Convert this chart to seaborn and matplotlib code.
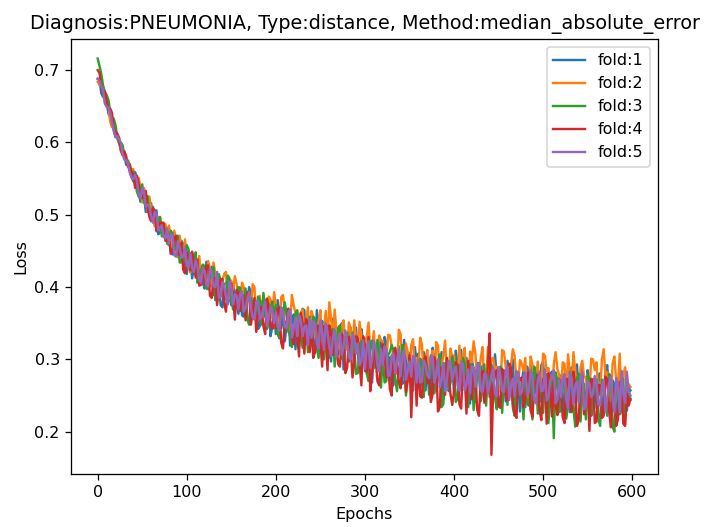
import pandas as pd
import matplotlib
matplotlib.use('Agg')
import matplotlib.pyplot as plt
import seaborn as sns

# Loss per fold, every 2 epochs
epochs = list(range(0, 600, 2))

loss_fold1 = [
    .688, .687, .668, .663, .662, .658, .640, .635, .633, .616, .608, .611, .599, .590, .591, .582, .569, .574, .564, .553,
    .546, .559, .551, .530, .518, .532, .525, .504, .504, .516, .516, .496, .492, .506, .473, .475, .487, .474, .472, .480,
    .477, .449, .445, .469, .459, .446, .441, .464, .459, .431, .418, .440, .440, .412, .426, .439, .412, .429, .429, .406,
    .398, .435, .419, .401, .428, .389, .393, .415, .405, .375, .372, .403, .406, .410, .385, .375, .404, .390, .376, .363,
    .396, .361, .359, .390, .380, .400, .393, .357, .363, .377, .342, .346, .378, .383, .360, .353, .384, .332, .346, .373,
    .335, .382, .364, .343, .371, .325, .346, .370, .319, .355, .362, .314, .348, .360, .326, .370, .368, .321, .331, .343,
    .354, .327, .309, .368, .339, .311, .353, .339, .318, .353, .325, .297, .356, .337, .306, .307, .331, .350, .286, .325,
    .328, .297, .344, .322, .297, .344, .309, .285, .342, .324, .284, .330, .319, .273, .268, .314, .310, .288, .321, .327,
    .287, .331, .322, .281, .303, .262, .265, .307, .311, .318, .285, .266, .327, .296, .270, .309, .288, .257, .317, .297,
    .308, .260, .280, .310, .257, .293, .299, .246, .316, .299, .264, .273, .285, .310, .244, .283, .297, .256, .268, .298,
    .252, .312, .293, .256, .313, .268, .263, .302, .271, .239, .299, .287, .241, .295, .282, .243, .291, .277, .250, .302,
    .299, .256, .252, .307, .276, .239, .234, .279, .285, .242, .298, .275, .256, .300, .243, .247, .279, .228, .267, .286,
    .234, .290, .278, .231, .291, .273, .255, .245, .241, .292, .297, .255, .259, .223, .280, .283, .221, .275, .269, .231,
    .278, .251, .223, .283, .263, .227, .289, .274, .241, .293, .252, .232, .290, .245, .229, .285, .268, .222, .235, .275,
    .233, .278, .281, .227, .246, .286, .292, .241, .225, .271, .266, .219, .238, .280, .283, .244, .248, .229, .261, .257,
]
loss_fold2 = [
    .684, .679, .679, .670, .656, .659, .651, .629, .621, .626, .617, .604, .605, .587, .584, .586, .582, .568, .561, .563,
    .563, .541, .539, .551, .539, .517, .537, .525, .505, .525, .508, .495, .484, .495, .497, .496, .483, .469, .487, .476,
    .485, .470, .456, .478, .466, .441, .471, .455, .435, .466, .445, .428, .420, .446, .446, .421, .427, .443, .413, .428,
    .425, .406, .436, .426, .401, .434, .419, .399, .387, .411, .408, .418, .421, .382, .387, .409, .396, .415, .404, .377,
    .376, .406, .400, .374, .389, .390, .364, .404, .400, .358, .374, .388, .354, .375, .382, .356, .387, .383, .357, .393,
    .375, .355, .347, .386, .389, .367, .361, .338, .347, .389, .375, .364, .348, .336, .365, .369, .330, .354, .372, .322,
    .367, .358, .332, .321, .352, .368, .316, .340, .367, .320, .379, .357, .326, .369, .341, .321, .313, .346, .354, .314,
    .313, .351, .342, .308, .354, .328, .312, .352, .331, .294, .295, .331, .351, .315, .316, .339, .294, .299, .333, .326,
    .325, .297, .295, .334, .333, .319, .304, .284, .280, .341, .335, .295, .292, .322, .310, .283, .320, .328, .280, .302,
    .290, .330, .320, .277, .303, .313, .272, .300, .312, .265, .324, .319, .275, .293, .305, .326, .278, .274, .315, .303,
    .306, .275, .273, .319, .292, .301, .316, .260, .263, .311, .296, .325, .308, .272, .274, .302, .317, .262, .264, .317,
    .269, .301, .302, .285, .290, .255, .256, .313, .311, .289, .270, .261, .293, .314, .305, .269, .259, .299, .294, .284,
    .302, .255, .255, .304, .293, .275, .274, .297, .258, .260, .308, .305, .284, .288, .260, .246, .294, .310, .287, .278,
    .253, .296, .294, .248, .307, .280, .261, .310, .284, .259, .243, .289, .298, .275, .276, .249, .255, .301, .300, .285,
    .296, .251, .252, .300, .314, .278, .282, .242, .244, .294, .304, .270, .265, .308, .236, .278, .289, .254, .266, .262,
]
loss_fold3 = [
    .716, .706, .695, .679, .670, .666, .659, .644, .634, .633, .624, .608, .599, .600, .596, .582, .575, .575, .567, .555,
    .560, .552, .532, .525, .536, .542, .517, .514, .526, .499, .497, .511, .502, .485, .490, .497, .470, .481, .479, .460,
    .458, .478, .474, .450, .457, .471, .434, .434, .451, .438, .458, .452, .428, .422, .439, .448, .406, .416, .424, .431,
    .429, .398, .397, .418, .413, .428, .382, .383, .418, .409, .399, .382, .384, .416, .412, .382, .369, .371, .391, .400,
    .399, .369, .371, .398, .355, .348, .385, .378, .376, .353, .387, .382, .348, .392, .372, .342, .350, .369, .380, .343,
    .375, .335, .329, .368, .358, .379, .363, .340, .332, .317, .342, .363, .368, .347, .331, .316, .349, .352, .310, .359,
    .322, .359, .356, .316, .302, .339, .339, .300, .330, .346, .302, .318, .342, .290, .315, .344, .347, .301, .308, .331,
    .337, .307, .301, .337, .318, .280, .281, .321, .325, .310, .309, .280, .270, .323, .326, .288, .292, .327, .311, .261,
    .305, .268, .270, .306, .310, .320, .313, .272, .256, .287, .294, .320, .307, .250, .271, .302, .259, .288, .295, .261,
    .263, .301, .296, .248, .302, .287, .251, .304, .287, .253, .266, .292, .307, .234, .238, .295, .286, .260, .271, .304,
    .291, .241, .246, .292, .277, .302, .295, .260, .234, .293, .283, .230, .254, .277, .295, .242, .261, .293, .236, .281,
    .248, .293, .276, .247, .231, .282, .290, .226, .269, .274, .237, .291, .279, .233, .222, .281, .282, .254, .255, .217,
    .274, .239, .236, .275, .217, .290, .278, .225, .267, .261, .226, .279, .280, .212, .244, .269, .191, .282, .272, .227,
    .229, .265, .272, .218, .237, .283, .265, .233, .207, .274, .280, .214, .257, .266, .217, .278, .274, .224, .241, .258,
    .272, .218, .208, .272, .259, .244, .222, .280, .276, .207, .200, .266, .265, .224, .229, .273, .210, .267, .260, .244,
]
loss_fold4 = [
    .700, .696, .679, .667, .671, .658, .645, .647, .641, .620, .615, .612, .607, .590, .582, .588, .579, .566, .570, .559,
    .556, .537, .554, .543, .524, .523, .529, .533, .510, .497, .491, .509, .506, .477, .482, .489, .489, .489, .464, .464,
    .473, .446, .449, .468, .471, .445, .445, .461, .424, .419, .448, .441, .423, .449, .432, .413, .438, .402, .403, .425,
    .404, .429, .430, .388, .385, .412, .412, .375, .395, .410, .411, .377, .366, .395, .396, .405, .386, .355, .396, .392,
    .367, .390, .388, .354, .393, .393, .348, .364, .385, .338, .362, .372, .372, .346, .335, .384, .372, .347, .342, .365,
    .343, .370, .372, .323, .315, .352, .350, .370, .360, .328, .321, .351, .334, .304, .364, .350, .308, .356, .343, .310,
    .344, .302, .311, .341, .347, .323, .290, .346, .331, .285, .347, .337, .306, .327, .323, .293, .290, .335, .330, .281,
    .288, .331, .319, .275, .295, .332, .329, .294, .264, .332, .318, .282, .331, .256, .281, .315, .300, .270, .264, .303,
    .321, .308, .275, .295, .259, .250, .300, .316, .292, .270, .260, .295, .307, .255, .273, .306, .220, .289, .298, .236,
    .295, .249, .247, .299, .304, .267, .284, .241, .252, .303, .294, .228, .234, .289, .284, .251, .302, .282, .252, .237,
    .255, .296, .292, .238, .232, .285, .277, .225, .298, .264, .245, .288, .280, .230, .222, .277, .284, .240, .256, .293,
    .336, .168, .262, .280, .285, .235, .233, .287, .273, .251, .243, .294, .288, .239, .225, .219, .265, .273, .275, .234,
    .246, .275, .282, .229, .220, .265, .267, .279, .230, .216, .273, .269, .211, .281, .261, .221, .275, .237, .223, .273,
    .262, .220, .212, .273, .272, .241, .227, .283, .265, .208, .217, .267, .278, .224, .242, .260, .201, .273, .272, .212,
    .214, .265, .264, .219, .222, .276, .272, .230, .206, .260, .253, .208, .217, .269, .266, .211, .208, .255, .236, .245,
]
loss_fold5 = [
    .688, .685, .678, .672, .654, .649, .648, .642, .628, .618, .607, .609, .604, .599, .584, .576, .576, .571, .558, .551,
    .549, .555, .547, .529, .523, .537, .532, .511, .514, .511, .498, .489, .504, .501, .478, .482, .485, .470, .467, .481,
    .460, .473, .472, .444, .442, .464, .455, .441, .441, .455, .429, .427, .447, .427, .421, .437, .429, .409, .406, .426,
    .422, .404, .401, .425, .422, .401, .400, .421, .385, .386, .407, .401, .387, .376, .408, .400, .376, .390, .388, .369,
    .391, .394, .366, .371, .383, .393, .371, .358, .355, .380, .381, .356, .358, .371, .380, .346, .357, .373, .368, .350,
    .365, .345, .340, .372, .366, .345, .343, .365, .369, .330, .343, .357, .332, .361, .354, .332, .345, .347, .320, .357,
    .330, .353, .350, .322, .315, .354, .337, .313, .350, .338, .317, .305, .330, .341, .303, .328, .336, .306, .317, .340,
    .323, .303, .300, .335, .330, .308, .322, .292, .298, .326, .287, .316, .325, .288, .300, .326, .315, .292, .283, .314,
    .292, .318, .314, .277, .278, .306, .308, .281, .298, .314, .277, .304, .313, .272, .284, .297, .276, .305, .299, .268,
    .300, .268, .269, .299, .292, .278, .274, .306, .303, .268, .279, .300, .261, .271, .295, .256, .271, .298, .296, .272,
    .283, .290, .264, .257, .297, .293, .257, .266, .286, .253, .291, .288, .262, .292, .294, .257, .255, .280, .280, .253,
    .265, .279, .288, .253, .249, .289, .278, .256, .255, .283, .290, .244, .264, .273, .249, .284, .280, .251, .255, .275,
    .282, .251, .255, .285, .277, .244, .239, .271, .283, .256, .257, .286, .243, .247, .271, .278, .285, .239, .245, .272,
    .248, .275, .280, .244, .233, .282, .274, .238, .264, .269, .240, .276, .282, .231, .235, .270, .266, .248, .252, .277,
    .267, .238, .236, .263, .271, .227, .247, .267, .277, .245, .227, .274, .263, .227, .284, .252, .240, .283, .255, .250,
]

folds = ['fold:1', 'fold:2', 'fold:3', 'fold:4', 'fold:5']
all_losses = [loss_fold1, loss_fold2, loss_fold3, loss_fold4, loss_fold5]

frames = []
for name, vals in zip(folds, all_losses):
    frames.append(pd.DataFrame({'Epochs': epochs, 'Loss': vals, 'fold': name}))
df = pd.concat(frames, ignore_index=True)

# the reference is a slightly enlarged default matplotlib figure
dpi = 115
fig, ax = plt.subplots(figsize=(716 / dpi, 527 / dpi), dpi=dpi)
fig.subplots_adjust(left=71 / 716, right=658 / 716, top=1 - 39 / 527, bottom=1 - 474 / 527)

sns.lineplot(data=df, x='Epochs', y='Loss', hue='fold', palette='tab10',
             estimator=None, linewidth=1.5, ax=ax)

ax.set_xlim(-29.95, 628.95)
ax.set_ylim(0.1415, 0.743)
ax.set_title('Diagnosis:PNEUMONIA, Type:distance, Method:median_absolute_error')
ax.set_xlabel('Epochs')
ax.set_ylabel('Loss')
sns.move_legend(ax, 'upper right', title=None)

fig.savefig('out.png', dpi=dpi)
